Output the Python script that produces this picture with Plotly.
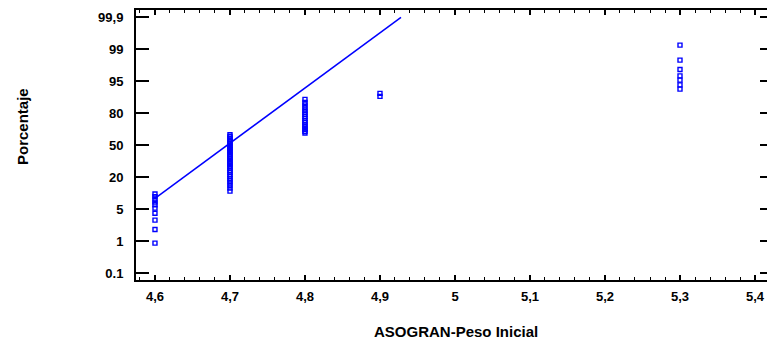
import plotly.graph_objects as go

# Data: ASOGRAN-Peso Inicial values and their normal scores
x_46 = [4.6] * 10
z_46 = [-2.30, -1.98, -1.76, -1.60, -1.48, -1.40, -1.34, -1.27, -1.21, -1.15]
x_47 = [4.7] * 31
z_47 = [-1.08, -1.01, -0.95, -0.89, -0.84, -0.79, -0.74, -0.69, -0.64, -0.60,
        -0.55, -0.51, -0.47, -0.43, -0.39, -0.35, -0.31, -0.27, -0.23, -0.19,
        -0.15, -0.11, -0.08, -0.04, 0.00, 0.04, 0.08, 0.12, 0.16, 0.20, 0.24]
x_48 = [4.8] * 17
z_48 = [0.28, 0.32, 0.36, 0.40, 0.44, 0.48, 0.53, 0.57, 0.62, 0.67, 0.72,
        0.77, 0.82, 0.88, 0.94, 1.00, 1.07]
x_49 = [4.9] * 2
z_49 = [1.14, 1.21]
x_53 = [5.3] * 7
z_53 = [1.31, 1.41, 1.52, 1.62, 1.77, 1.99, 2.34]

xs = x_46 + x_47 + x_48 + x_49 + x_53
zs = z_46 + z_47 + z_48 + z_49 + z_53

# fitted reference line endpoints
line_x = [4.6, 4.928]
line_z = [-1.25, 2.99]

x_ticks = [4.6, 4.7, 4.8, 4.9, 5.0, 5.1, 5.2, 5.3, 5.4]
x_labels = ["4,6", "4,7", "4,8", "4,9", "5", "5,1", "5,2", "5,3", "5,4"]
y_ticks = [-3, -2.25, -1.5, -0.75, 0, 0.75, 1.5, 2.25, 3]
y_labels = ["0.1", "1", "5", "20", "50", "80", "95", "99", "99,9"]

BLUE = "#0000FF"
FONT = "Liberation Sans, Arial, sans-serif"

W, H = 767, 342
L, R, T, B = 136, 0, 10, 62
xr = [4.5747, 5.416]
yr = [-3.164, 3.164]

fig = go.Figure()
fig.add_trace(go.Scatter(x=line_x, y=line_z, mode="lines",
                         line=dict(color=BLUE, width=1.5), hoverinfo="skip"))
fig.add_trace(go.Scatter(x=xs, y=zs, mode="markers",
                         marker=dict(symbol="square-open", size=4, color=BLUE,
                                     line=dict(width=1.4, color=BLUE))))
fig.add_trace(go.Scatter(x=[], y=[], xaxis="x2", yaxis="y2", showlegend=False))

common = dict(showgrid=False, zeroline=False, fixedrange=True)
tickfont = dict(family=FONT, size=13, color="black", weight="bold")

fig.update_layout(
    width=W, height=H, showlegend=False,
    margin=dict(l=L, r=R, t=T, b=B, pad=0),
    paper_bgcolor="white", plot_bgcolor="white",
    xaxis=dict(range=xr, tickvals=x_ticks, ticktext=x_labels, ticks="inside",
               ticklen=5, tickwidth=1.5, tickcolor="black",
               showline=True, linewidth=2, linecolor="black",
               ticklabelstandoff=3,
               minor=dict(dtick=0.02, tick0=4.6, ticks="inside", ticklen=3,
                          tickwidth=1.2, tickcolor="black"),
               tickfont=tickfont, **common),
    yaxis=dict(range=yr, tickvals=y_ticks, ticktext=y_labels, ticks="inside",
               ticklen=13, tickwidth=2, tickcolor="black",
               showline=True, linewidth=2, linecolor="black",
               ticklabelstandoff=8,
               tickfont=tickfont, **common),
    xaxis2=dict(range=xr, overlaying="x", side="top", tickvals=x_ticks,
                showticklabels=False, ticks="inside", ticklen=5, tickwidth=1.5,
                tickcolor="black", showline=True, linewidth=2, linecolor="black",
                minor=dict(dtick=0.02, tick0=4.6, ticks="inside", ticklen=3,
                           tickwidth=1.2, tickcolor="black"),
                **common),
    yaxis2=dict(range=yr, overlaying="y", side="right", tickvals=y_ticks,
                showticklabels=False, ticks="inside", ticklen=7, tickwidth=2,
                tickcolor="black", showline=False, **common),
    annotations=[
        dict(text="ASOGRAN-Peso Inicial", xref="paper", yref="paper",
             x=(456 - L) / (W - L - R), y=(H - B - 331) / (H - T - B),
             xanchor="center", yanchor="middle", showarrow=False,
             font=dict(family=FONT, size=15, color="black", weight="bold")),
        dict(text="Porcentaje", xref="paper", yref="paper", textangle=-90,
             x=(22 - L) / (W - L - R), y=(H - B - 127) / (H - T - B),
             xanchor="center", yanchor="middle", showarrow=False,
             font=dict(family=FONT, size=15, color="black", weight="bold")),
    ],
)

fig.write_html("out.html", config={"displayModeBar": False},
               post_script="document.body.style.margin='0';document.body.style.padding='0';document.body.style.overflow='hidden';")
